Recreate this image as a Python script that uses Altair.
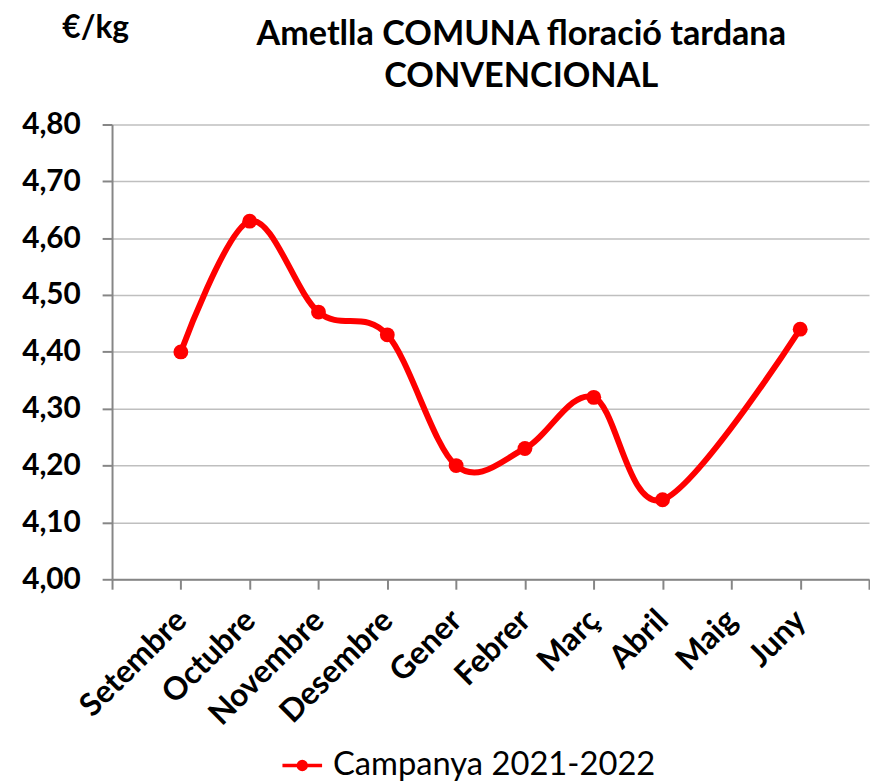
import json
import altair as alt
import pandas as pd

months = ["Setembre", "Octubre", "Novembre", "Desembre", "Gener",
          "Febrer", "Març", "Abril", "Maig", "Juny"]
prices = [4.40, 4.63, 4.47, 4.43, 4.20, 4.23, 4.32, 4.14, None, 4.44]
series_name = "Campanya 2021-2022"
y_ticks = [4.0, 4.1, 4.2, 4.3, 4.4, 4.5, 4.6, 4.7, 4.8]
title_lines = ["Ametlla COMUNA floració tardana", "CONVENCIONAL"]
unit_label = "€/kg"

df = pd.DataFrame({
    "pos": list(range(1, len(months) + 1)),
    "month": months,
    "price": prices,
    "series": [series_name] * len(months),
})
df = df[df["price"].notna()]

x_labels = json.dumps([""] + months + [""])
FONT = "Lato"

x_enc = alt.X(
    "pos:Q",
    scale=alt.Scale(domain=[0, len(months) + 1], nice=False, zero=False),
    axis=alt.Axis(
        values=list(range(0, len(months) + 2)),
        labelExpr=f"{x_labels}[datum.value]",
        title=None, grid=False, tickSize=10,
        labelAngle=-45, labelAlign="right", labelBaseline="middle",
        labelPadding=26, labelFontSize=32, labelFont=FONT, labelFontWeight="bold",
        labelColor="#000000", labelOverlap=False, labelLimit=0,
    ),
)
y_enc = alt.Y(
    "price:Q",
    scale=alt.Scale(domain=[4.0, 4.8], nice=False, zero=False),
    axis=alt.Axis(
        values=y_ticks,
        labelExpr="replace(format(datum.value, '.2f'), '.', ',')",
        tickSize=10, labelPadding=22, labelFontSize=30, labelFont=FONT,
        labelFontWeight="bold", labelColor="#000000",
        title=unit_label, titleAngle=0, titleX=-17, titleY=-88,
        titleAlign="center", titleBaseline="alphabetic", titleFont=FONT,
        titleFontSize=32, titleFontWeight="bold", titleColor="#000000",
    ),
)
color_enc = alt.Color(
    "series:N",
    scale=alt.Scale(range=["#FF0000"]),
    legend=alt.Legend(
        title=None, orient="none", legendX=170, legendY=625,
        symbolType="M-1,0L1,0M-0.2,0A0.2,0.2,0,1,1,0.2,0A0.2,0.2,0,1,1,-0.2,0Z",
        symbolSize=1600, symbolStrokeWidth=3.5, symbolFillColor="#FF0000",
        symbolStrokeColor="#FF0000", labelFont=FONT, labelFontSize=33,
        labelColor="#000000", labelOffset=9, labelLimit=0,
    ),
)

base = alt.Chart(df).encode(x=x_enc, y=y_enc, color=color_enc)
line = base.mark_line(interpolate="cardinal", strokeWidth=6)
points = base.mark_point(filled=True, size=225, opacity=1, shape="circle")

title_df = pd.DataFrame({"t": ["\n".join(title_lines)]})
title = alt.Chart(title_df).mark_text(
    font=FONT, fontSize=34.5, fontWeight="bold", color="#000000",
    align="center", baseline="alphabetic", lineBreak="\n", lineHeight=42,
).encode(x=alt.value(413), y=alt.value(-80), text="t:N")

chart = (line + points + title).properties(
    width=764, height=459,
    autosize=alt.AutoSizeParams(type="none"),
    padding={"left": 105, "top": 114, "right": 1, "bottom": 200},
).configure_view(stroke=None).configure_axis(
    domainColor="#868686", domainWidth=2, tickColor="#868686", tickWidth=2,
    gridColor="#BFBFBF", gridWidth=1.5,
)

chart.save("out.html", embed_options={"renderer": "svg", "actions": False})
